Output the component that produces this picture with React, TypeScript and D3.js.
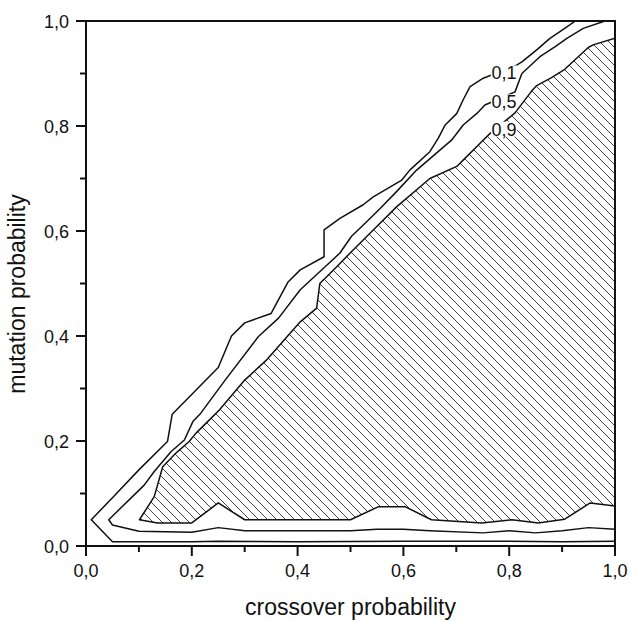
import React from 'react';
import * as d3 from 'd3';

// contour lines, [crossover, mutation], from bottom right edge to top
const contour01: [number, number][] = [
  [1.0, 0.009], [0.9, 0.008], [0.8, 0.009], [0.6, 0.009], [0.4, 0.008], [0.25, 0.009],
  [0.2, 0.008], [0.05, 0.008], [0.01, 0.05], [0.05, 0.092], [0.1, 0.145], [0.154, 0.199],
  [0.163, 0.251], [0.17, 0.258], [0.25, 0.34], [0.275, 0.4], [0.3, 0.425], [0.35, 0.443],
  [0.367, 0.475], [0.382, 0.503], [0.405, 0.526], [0.45, 0.551], [0.45, 0.602], [0.48, 0.624],
  [0.524, 0.65], [0.543, 0.665], [0.597, 0.697], [0.612, 0.716], [0.65, 0.751], [0.666, 0.777],
  [0.679, 0.802], [0.701, 0.824], [0.713, 0.85], [0.726, 0.875], [0.751, 0.891], [0.814, 0.916],
  [0.824, 0.922], [0.852, 0.945], [0.877, 0.967], [0.905, 0.986], [0.925, 1.0],
];

const contour05: [number, number][] = [
  [1.0, 0.032], [0.95, 0.035], [0.9, 0.029], [0.85, 0.025], [0.8, 0.029], [0.75, 0.025],
  [0.65, 0.029], [0.6, 0.032], [0.55, 0.032], [0.5, 0.029], [0.3, 0.029], [0.25, 0.035],
  [0.2, 0.026], [0.1, 0.028], [0.05, 0.04], [0.043, 0.05], [0.11, 0.116], [0.129, 0.142],
  [0.161, 0.18], [0.186, 0.202], [0.202, 0.237], [0.217, 0.253], [0.263, 0.316], [0.326, 0.399],
  [0.364, 0.434], [0.405, 0.488], [0.452, 0.532], [0.48, 0.558], [0.502, 0.59], [0.531, 0.618],
  [0.556, 0.643], [0.587, 0.675], [0.625, 0.716], [0.669, 0.754], [0.691, 0.773], [0.713, 0.802],
  [0.739, 0.824], [0.754, 0.84], [0.811, 0.865], [0.824, 0.9], [0.858, 0.932], [0.887, 0.951],
  [0.909, 0.967], [0.94, 0.986], [0.981, 1.0],
];

const contour09: [number, number][] = [
  [1.0, 0.076], [0.953, 0.082], [0.905, 0.051], [0.855, 0.044], [0.805, 0.05], [0.748, 0.044],
  [0.653, 0.05], [0.603, 0.075], [0.553, 0.075], [0.5, 0.05], [0.3, 0.05], [0.25, 0.082],
  [0.2, 0.044], [0.135, 0.044], [0.101, 0.05], [0.129, 0.094], [0.145, 0.151], [0.17, 0.177],
  [0.195, 0.199], [0.208, 0.215], [0.239, 0.246], [0.252, 0.259], [0.3, 0.316], [0.34, 0.353],
  [0.405, 0.427], [0.436, 0.453], [0.442, 0.5], [0.474, 0.532], [0.505, 0.564], [0.543, 0.602],
  [0.587, 0.646], [0.65, 0.7], [0.701, 0.723], [0.713, 0.735], [0.745, 0.767], [0.764, 0.786],
  [0.811, 0.825], [0.842, 0.866], [0.852, 0.877], [0.88, 0.892], [0.905, 0.908], [0.95, 0.95],
  [0.96, 0.955], [1.0, 0.967],
];

const levelLabels = ['0,1', '0,5', '0,9'];
const labelPos: [number, number][] = [[0.79, 0.901], [0.79, 0.846], [0.79, 0.794]];

const majorTicks = [0, 0.2, 0.4, 0.6, 0.8, 1.0];
const minorTicks = [0.1, 0.3, 0.5, 0.7, 0.9];

const xTitle = 'crossover probability';
const yTitle = 'mutation probability';

const App = () => {
  const W = 630, H = 621;
  const x = d3.scaleLinear().domain([0, 1]).range([86, 615]);
  const y = d3.scaleLinear().domain([0, 1]).range([546, 21]);
  const line = d3.line<[number, number]>().x(d => x(d[0])).y(d => y(d[1]));
  const fmt = (v: number) => d3.format('.1f')(v).replace('.', ',');
  const font = '"Liberation Sans", Arial, sans-serif';

  return (
    <svg width={W} height={H} style={{ position: 'absolute', left: 0, top: 0, background: '#fff' }}>
      <defs>
        <pattern id="hatch" patternUnits="userSpaceOnUse" width={9} height={9}>
          <path d="M-2,-2 L11,11 M-2,7 L2,11 M7,-2 L11,2" stroke="#444" strokeWidth={1} />
        </pattern>
        <clipPath id="plot">
          <rect x={86} y={21} width={529} height={525} />
        </clipPath>
      </defs>

      <g clipPath="url(#plot)">
        <path d={line(contour09) + 'Z'} fill="url(#hatch)" stroke="none" />
        {[contour01, contour05, contour09].map((c, i) => (
          <path key={i} d={line(c) || ''} fill="none" stroke="#111" strokeWidth={1.5} strokeLinejoin="round" />
        ))}
        {levelLabels.map((t, i) => (
          <g key={t}>
            <rect x={x(labelPos[i][0]) - 13} y={y(labelPos[i][1]) - 7.5} width={26} height={15} fill="#fff" />
            <text x={x(labelPos[i][0])} y={y(labelPos[i][1]) + 6.5} textAnchor="middle"
              fontFamily={font} fontSize={18} fill="#111">{t}</text>
          </g>
        ))}
      </g>

      <rect x={86} y={21} width={529} height={525} fill="none" stroke="#111" strokeWidth={2} />

      {majorTicks.map(t => (
        <g key={'x' + t}>
          <line x1={x(t)} x2={x(t)} y1={546} y2={556} stroke="#111" strokeWidth={2} />
          <text x={x(t)} y={577} textAnchor="middle" fontFamily={font} fontSize={18} fill="#111">{fmt(t)}</text>
          <line x1={76} x2={86} y1={y(t)} y2={y(t)} stroke="#111" strokeWidth={2} />
          <text x={69} y={y(t) + 6.5} textAnchor="end" fontFamily={font} fontSize={18} fill="#111">{fmt(t)}</text>
        </g>
      ))}
      {minorTicks.map(t => (
        <g key={'m' + t}>
          <line x1={x(t)} x2={x(t)} y1={546} y2={552} stroke="#111" strokeWidth={2} />
          <line x1={80} x2={86} y1={y(t)} y2={y(t)} stroke="#111" strokeWidth={2} />
        </g>
      ))}

      <text x={350.5} y={615} textAnchor="middle" fontFamily={font} fontSize={23} fill="#111">{xTitle}</text>
      <text transform="translate(25,294) rotate(-90)" textAnchor="middle" fontFamily={font} fontSize={23} fill="#111">{yTitle}</text>
    </svg>
  );
};

export default App;
